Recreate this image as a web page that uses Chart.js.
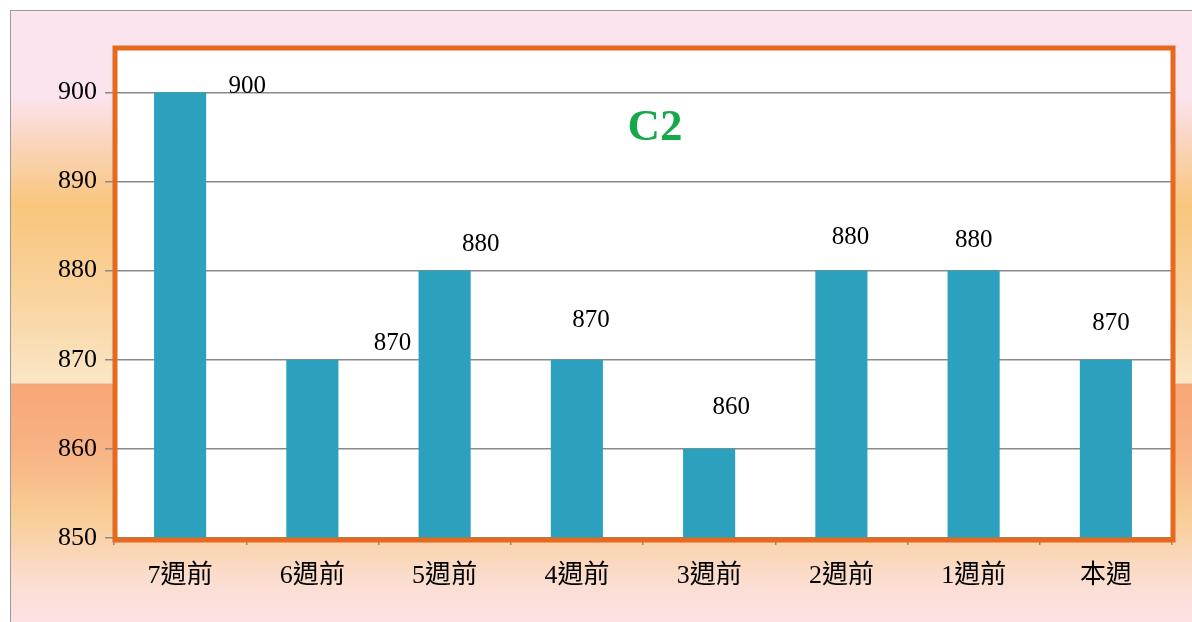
<!DOCTYPE html>
<html>
<head>
<meta charset="utf-8">
<script src="https://cdn.jsdelivr.net/npm/chart.js@4/dist/chart.umd.min.js"></script>
<style>
  html, body { margin: 0; padding: 0; background: #ffffff; width: 1192px; height: 622px; overflow: hidden; }
  #frame {
    position: absolute; left: 10px; top: 10px; width: 1200px; height: 700px;
    border: 1px solid #9a9a9a; box-sizing: border-box;
    background: linear-gradient(to bottom,
      #FCE4EF 0px, #FCE4EF 85px, #FAD6C4 125px, #F9C67C 195px,
      #F9D39E 285px, #FAE6C6 371px, #FAE6C6 372px, #F8A677 373px,
      #F8B384 440px, #F9CD96 505px, #FBDDD0 570px, #FCE2E6 612px, #FCE2E6 700px);
  }
  #wrap { position: absolute; left: 0; top: 0; width: 1192px; height: 622px; }
</style>
</head>
<body>
<div id="frame"></div>
<div id="wrap"><canvas id="c" width="1192" height="622"></canvas></div>
<script>
const categories = ['7週前', '6週前', '5週前', '4週前', '3週前', '2週前', '1週前', '本週'];
const values = [900, 870, 880, 870, 860, 880, 880, 870];
const yTicks = [850, 860, 870, 880, 890, 900];
const chartTitle = 'C2';

// label placement offsets (pixels, relative to bar top centre) as in the reference
const labelOffsets = [[67, -6], [80, -16], [36, -26], [14, -39], [22, -41], [9, -33], [0, -30], [5, -36]];

const serif = "'Liberation Serif', 'Times New Roman', 'Noto Sans CJK TC', serif";

const areaPlugin = {
  id: 'area',
  beforeDraw(chart) {
    const a = chart.chartArea, ctx = chart.ctx;
    ctx.save();
    ctx.fillStyle = '#ffffff';
    ctx.fillRect(a.left, a.top, a.right - a.left, a.bottom - a.top);
    ctx.restore();
  },
  afterDatasetsDraw(chart) {
    const a = chart.chartArea, ctx = chart.ctx;
    ctx.save();
    ctx.strokeStyle = '#E5691F';
    ctx.lineWidth = 5;
    ctx.strokeRect(a.left + 1, a.top + 2, a.right - a.left, a.bottom - a.top);
    // title
    ctx.fillStyle = '#17A84B';
    ctx.font = 'bold 45px ' + serif;
    ctx.textAlign = 'center';
    ctx.textBaseline = 'middle';
    ctx.fillText(chartTitle, (a.left + a.right) / 2 + 12, 128);
    // value labels
    const meta = chart.getDatasetMeta(0);
    ctx.fillStyle = '#000000';
    ctx.font = '25px ' + serif;
    meta.data.forEach((bar, i) => {
      const off = labelOffsets[i];
      ctx.fillText(String(values[i]), bar.x + off[0], bar.y + off[1]);
    });
    ctx.restore();
  }
};

new Chart(document.getElementById('c'), {
  type: 'bar',
  data: {
    labels: categories,
    datasets: [{
      data: values,
      backgroundColor: '#2BA1BE',
      borderWidth: 0,
      categoryPercentage: 1,
      barPercentage: 0.394
    }]
  },
  options: {
    responsive: false,
    animation: false,
    events: [],
    layout: { padding: { left: 0, right: 20, top: 46, bottom: 0 } },
    plugins: { legend: { display: false }, tooltip: { enabled: false }, title: { display: false } },
    scales: {
      x: {
        offset: true,
        grid: { display: true, drawOnChartArea: false, drawTicks: true, tickLength: 7, color: '#8a8a8a', lineWidth: 1.5, offset: true },
        border: { display: false },
        ticks: { color: '#000', font: { family: serif, size: 26 }, padding: 16, maxRotation: 0, autoSkip: false },
        afterFit(s) { s.height = 84; }
      },
      y: {
        min: yTicks[0],
        max: 905.2,
        grid: { color: '#8a8a8a', lineWidth: 1.5, tickLength: 9, drawTicks: true },
        border: { display: false },
        ticks: { stepSize: 10, color: '#000', font: { family: serif, size: 26 }, padding: 8 },
        afterBuildTicks(s) { s.ticks = yTicks.map(v => ({ value: v })); },
        afterFit(s) { s.width = 114; }
      }
    }
  },
  plugins: [areaPlugin]
});
</script>
</body>
</html>
